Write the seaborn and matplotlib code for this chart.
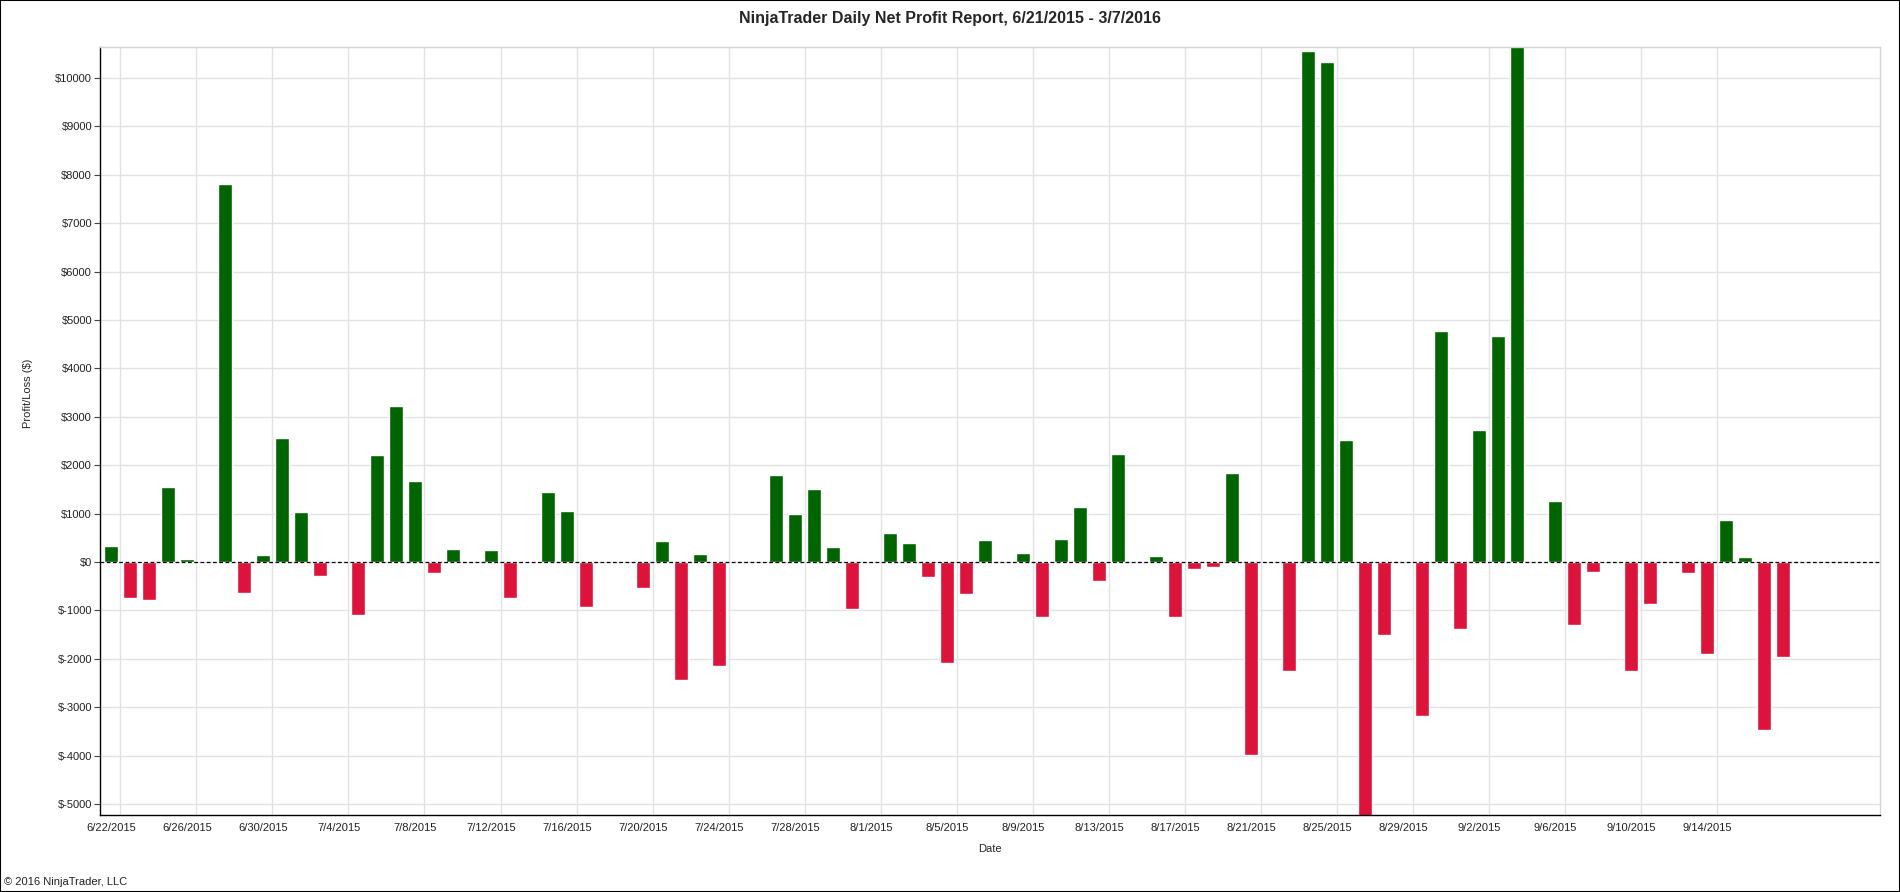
import matplotlib
matplotlib.use("Agg")
import matplotlib.pyplot as plt
import matplotlib.patches as mpatches
import numpy as np
import pandas as pd
import seaborn as sns

# one entry per calendar day from 6/22/2015, None = no trades that day
start_day = "2015-06-22"
daily_pnl = [
    330, -750, -790, 1550, 60, None, 7815, -645, 140, 2560,
    1035, -280, None, -1105, 2210, 3220, 1670, -235, 270, None,
    250, -750, 25, 1445, 1058, -940, None, None, -530, 435,
    -2445, 165, -2150, None, None, 1800, 987, 1504, 305, -965,
    None, 600, 388, -317, -2090, -670, 458, None, 188, -1140,
    482, 1140, -400, 2233, None, 130, -1128, -153, -106, 1845,
    -3995, None, -2256, 10552, 10329, 2526, -5300, -1516, None, -3185,
    4771, -1387, 2726, 4665, 11200, None, 1257, -1293, -212, None,
    -2256, -870, None, -235, -1892, 870, 106, -3478, -1974,
]
y_ticks = list(range(-5000, 10001, 1000))
label_every = 4
last_label_idx = 84

days = pd.date_range(start_day, periods=len(daily_pnl), freq="D")
day_labels = [f"{d.month}/{d.day}/{d.year}" for d in days]
df = pd.DataFrame({"day": day_labels, "pnl": pd.to_numeric(pd.Series(daily_pnl, dtype="float"))})
df["sign"] = np.where(df["pnl"] < 0, "loss", "gain")

sns.set_style("white")
plt.rcParams["font.family"] = ["Liberation Sans", "DejaVu Sans"]

fig = plt.figure(figsize=(19, 8.92), dpi=100)
ax = fig.add_axes([0.0528, 0.0868, 0.9367, 0.861])

sns.barplot(data=df, x="day", y="pnl", hue="sign", order=day_labels,
            palette={"gain": "#006400", "loss": "#dc143c"},
            dodge=False, width=0.74, legend=False, ax=ax, saturation=1)

ax.set_ylim(-5220, 10650)
ax.set_xlim(-0.56, 93.1)
ax.set_yticks(y_ticks)
ax.set_yticklabels([f"${v}" for v in y_ticks], fontsize=8, color="#222222")

major = list(range(0, last_label_idx + 1, label_every))
ax.set_xticks(major)
ax.set_xticklabels([day_labels[i] for i in major], fontsize=8, color="#222222")
ax.set_xticks([i + 0.5 for i in major], minor=True)
ax.tick_params(axis="x", which="both", length=0, pad=6)
ax.tick_params(axis="y", length=4, width=0.8, color="#444444", pad=2, left=True)

ax.yaxis.grid(True, color="#e3e3e3", lw=1)
ax.xaxis.grid(True, which="minor", color="#e3e3e3", lw=1)
ax.xaxis.grid(False, which="major")
ax.set_axisbelow(True)

ax.axhline(0, color="black", lw=0.9, ls=(0, (3, 2)), zorder=5)

for side in ["left", "bottom"]:
    ax.spines[side].set_color("black")
    ax.spines[side].set_linewidth(1)
for side in ["top", "right"]:
    ax.spines[side].set_color("#d6d6d6")
    ax.spines[side].set_linewidth(1)

ax.set_xlabel("Date", fontsize=8, labelpad=8)
ax.set_ylabel("Profit/Loss ($)", fontsize=8)
ax.yaxis.set_label_coords(-0.038, 0.548)

fig.suptitle("NinjaTrader Daily Net Profit Report, 6/21/2015 - 3/7/2016",
             fontsize=11.5, fontweight="bold", y=0.988)
fig.text(0.002, 0.008, "\u00a9 2016 NinjaTrader, LLC", fontsize=8, color="#222222")

fig.patches.append(mpatches.Rectangle((0, 0), 1, 1, transform=fig.transFigure,
                                      fill=False, edgecolor="black", lw=1.5))

fig.savefig("out.png", dpi=100)
